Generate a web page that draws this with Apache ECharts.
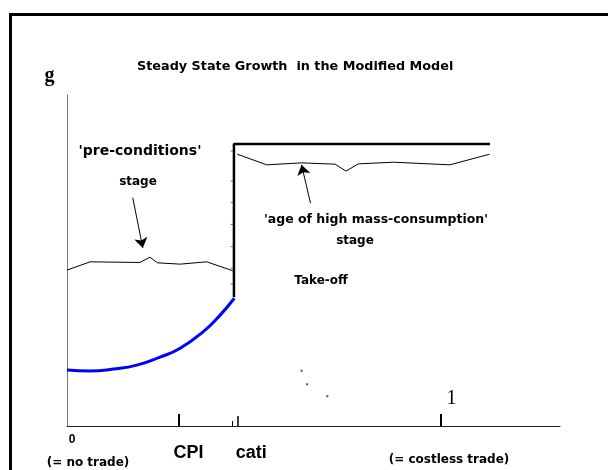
<!DOCTYPE html>
<html>
<head>
<meta charset="utf-8">
<script src="https://cdn.jsdelivr.net/npm/echarts@6/dist/echarts.min.js"></script>
<style>
  html, body { margin: 0; padding: 0; background: #fff; }
  #main { width: 608px; height: 470px; }
</style>
</head>
<body>
<div id="main"></div>
<script>
// x: trade openness (0 = no trade, 1 = costless trade), g: growth rate (arbitrary units)
const X_MAX = 1.32;
const CPI = 0.30;
const CATI = 0.457;
const CATI_PRE = 0.442;
const ONE = 1;

// blue curve before take-off
const takeOffCurve = [[0, 16.9], [0.062, 16.6], [0.124, 17.2], [0.187, 18.4], [0.249, 20.8],
  [0.303, 23.5], [0.365, 28.5], [0.410, 33.5], [0.448, 38.6]];
// thick step: jump at cati, then flat
const stepLine = [[0.447, 39.0], [0.447, 85.2], [1.1325, 85.2]];
// thin wavy lines
const preConditions = [[0, 47.1], [0.062, 49.6], [0.195, 49.4], [0.222, 51.0], [0.242, 49.3],
  [0.303, 48.9], [0.374, 49.6], [0.444, 46.9]];
const highMass = [[0.456, 82.1], [0.535, 78.9], [0.628, 79.5], [0.718, 79.1], [0.747, 77.0],
  [0.780, 79.2], [0.874, 79.7], [1.025, 78.9], [1.131, 82.1]];
// arrows: [from, to]
const arrows = [[[0.176, 69.0], [0.203, 53.8]], [[0.652, 67.3], [0.628, 78.9]]];
// stray dots
const dots = [[0.628, 16.7], [0.643, 12.6], [0.697, 9.0]];
// little ticks along the jump
const stepTickG = [83.1, 74.0, 67.5, 60.9, 54.2, 47.7, 42.9];

const chart = echarts.init(document.getElementById('main'));

const txt = (text, x, y, size) => ({
  type: 'text',
  x: x, y: y,
  style: {
    text: text,
    fill: '#000',
    font: 'bold ' + (size || 12) + 'px "DejaVu Sans"',
    align: 'center',
    verticalAlign: 'middle'
  }
});

chart.setOption({
  animation: false,
  title: {
    text: 'Steady State Growth  in the Modified Model',
    left: 137,
    top: 60,
    padding: 0,
    textStyle: { fontFamily: 'DejaVu Sans', fontWeight: 'bold', fontSize: 12.8, color: '#000' }
  },
  grid: { left: 67, top: 95, right: 48, bottom: 44 },
  xAxis: [
    {
      type: 'value', min: 0, max: X_MAX, position: 'bottom',
      axisLine: { lineStyle: { color: '#222', width: 1 } },
      splitLine: { show: false },
      axisTick: { inside: true, length: 12, customValues: [CPI, ONE], lineStyle: { color: '#000', width: 2 } },
      axisLabel: {
        customValues: [0, CPI, CATI],
        margin: 8,
        formatter: v => v === 0 ? '{zero|0}' : (v === CPI ? '{cpi|CPI}' : '{cati|cati}'),
        rich: {
          zero: { fontFamily: 'Liberation Sans', fontWeight: 'bold', fontSize: 12, color: '#000', padding: [0, 0, 0, 10] },
          cpi: { fontFamily: 'Liberation Sans', fontWeight: 'bold', fontSize: 18, color: '#000', padding: [10, 0, 0, 19] },
          cati: { fontFamily: 'Liberation Sans', fontWeight: 'bold', fontSize: 18, color: '#000', padding: [10, 0, 0, 27] }
        }
      }
    },
    {
      type: 'value', min: 0, max: X_MAX, position: 'bottom', offset: 0,
      axisLine: { show: false },
      splitLine: { show: false },
      axisTick: { inside: true, length: 10, customValues: [CATI], lineStyle: { color: '#000', width: 1.5 } },
      axisLabel: {
        inside: true,
        margin: 17,
        customValues: [ONE],
        formatter: () => '{one|1}',
        rich: {
          one: { fontFamily: 'Liberation Serif', fontSize: 20, color: '#000', padding: [0, 0, 0, 22] }
        }
      }
    },
    {
      type: 'value', min: 0, max: X_MAX, position: 'bottom', offset: 0,
      axisLine: { show: false },
      splitLine: { show: false },
      axisTick: { inside: true, length: 5, customValues: [CATI_PRE], lineStyle: { color: '#000', width: 1 } },
      axisLabel: { show: false }
    }
  ],
  yAxis: {
    type: 'value', min: 0, max: 100,
    name: 'g',
    nameLocation: 'end',
    nameGap: 9,
    nameTextStyle: { fontFamily: 'Liberation Serif', fontWeight: 'bold', fontSize: 20, color: '#000', padding: [0, 35, 0, 0] },
    axisLine: { lineStyle: { color: '#777', width: 1 } },
    axisTick: { show: false },
    axisLabel: { show: false },
    splitLine: { show: false }
  },
  series: [
    {
      type: 'line', data: takeOffCurve, smooth: true, symbol: 'none',
      lineStyle: { color: '#0000ff', width: 3 }
    },
    {
      type: 'line', data: stepLine, symbol: 'none',
      lineStyle: { color: '#000', width: 2.5 }
    },
    {
      type: 'line', data: preConditions, symbol: 'none',
      lineStyle: { color: '#000', width: 1 }
    },
    {
      type: 'line', data: highMass, symbol: 'none',
      lineStyle: { color: '#000', width: 1 }
    },
    {
      type: 'lines', coordinateSystem: 'cartesian2d',
      symbol: ['none', 'arrow'], symbolSize: 10,
      lineStyle: { color: '#000', width: 1, opacity: 1 },
      itemStyle: { color: '#000' },
      data: arrows.map(a => ({ coords: a }))
    },
    {
      type: 'scatter', data: dots, symbol: 'rect', symbolSize: 2,
      itemStyle: { color: '#222' }
    },
    {
      type: 'scatter', data: stepTickG.map(g => [CATI_PRE, g]), symbol: 'rect', symbolSize: [3, 1],
      itemStyle: { color: '#555' }
    }
  ],
  graphic: [
    {
      type: 'rect',
      shape: { x: 10.5, y: 14.5, width: 700, height: 500 },
      style: { fill: 'none', stroke: '#000', lineWidth: 3 },
      silent: true
    },
    txt("'pre-conditions'", 140, 151, 14),
    txt('stage', 138, 182),
    txt("'age of high mass-consumption'", 376, 220, 12.5),
    txt('stage', 355, 241),
    txt('Take-off', 321, 281),
    txt('(= no trade)', 88, 463),
    txt('(= costless trade)', 449, 460)
  ]
});
</script>
</body>
</html>
